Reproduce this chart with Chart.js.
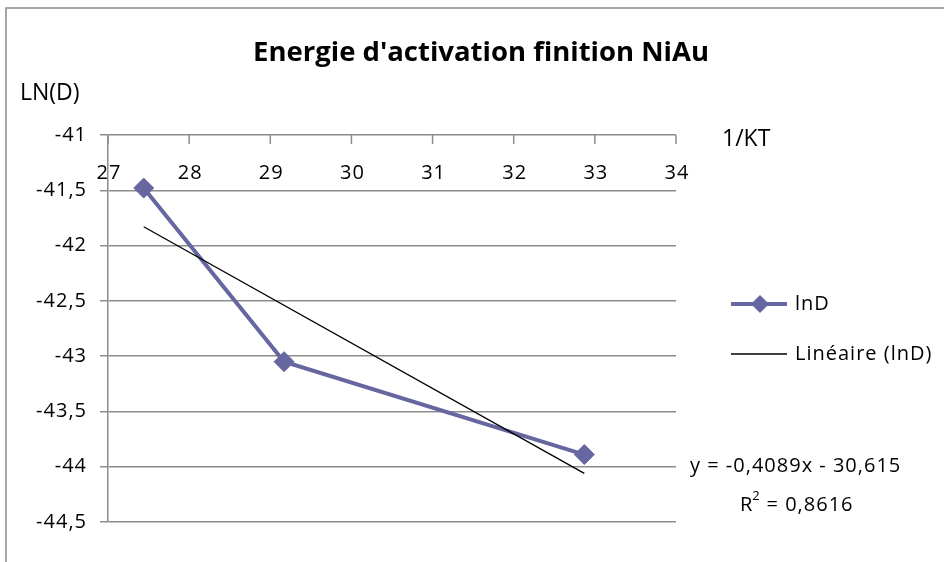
<!DOCTYPE html>
<html>
<head>
<meta charset="utf-8">
<script src="https://cdn.jsdelivr.net/npm/chart.js@4/dist/chart.umd.min.js"></script>
<style>
html,body{margin:0;padding:0;background:#fff;}
canvas{display:block;}
</style>
</head>
<body>
<canvas id="c" width="944" height="562"></canvas>
<script>
// ---- data ----
const seriesName = 'lnD';
const trendName = 'Linéaire (lnD)';
const xValues = [27.44, 29.17, 32.87];
const lnD = [-41.48, -43.05, -43.89];
const trendX = [27.44, 32.87];
const trendY = [-41.83, -44.06];
const xTicks = [27, 28, 29, 30, 31, 32, 33, 34];
const yTicks = [-41, -41.5, -42, -42.5, -43, -43.5, -44, -44.5];
const titleText = "Energie d'activation finition NiAu";
const yTitle = 'LN(D)';
const xTitle = '1/KT';
const equationText = 'y = -0,4089x - 30,615';
const r2Text = '0,8616';

const FONT = '"Open Sans", Lato, sans-serif';
const SERIES_COLOR = '#6666a0';
const GRID = '#8c8c8c';

const spacing = {
  id: 'spacing',
  beforeDraw(chart) { try { chart.ctx.letterSpacing = '1px'; } catch (e) {} }
};

const overlay = {
  id: 'overlay',
  afterDraw(chart) {
    const ctx = chart.ctx;
    const xs = chart.scales.x;
    const area = chart.chartArea;
    ctx.save();
    const ls = v => { try { ctx.letterSpacing = v; } catch (e) {} };
    // outer frame
    ctx.strokeStyle = '#8a8a8a';
    ctx.lineWidth = 1.5;
    ctx.strokeRect(6, 8, 960, 600);
    // title
    ctx.fillStyle = '#000';
    ls('0px');
    ctx.font = 'bold 27.5px ' + FONT;
    ctx.textAlign = 'center';
    ctx.textBaseline = 'alphabetic';
    ctx.fillText(titleText, 481, 61);
    // axis titles
    ctx.font = '23px ' + FONT;
    ctx.textAlign = 'left';
    ctx.fillText(yTitle, 20, 100);
    ctx.fillText(xTitle, 722, 146);
    // x ticks (axis crosses at top) and labels
    ls('1px');
    ctx.strokeStyle = GRID;
    ctx.lineWidth = 1.5;
    ctx.font = '20px ' + FONT;
    ctx.textAlign = 'center';
    ctx.textBaseline = 'middle';
    xTicks.forEach(v => {
      const px = xs.getPixelForValue(v);
      ctx.beginPath();
      ctx.moveTo(px, area.top);
      ctx.lineTo(px, area.top + 9);
      ctx.stroke();
      ctx.fillText(String(v), px + 1, area.top + 38);
    });
    // legend
    const lx1 = 731, lx2 = 787;
    ctx.strokeStyle = SERIES_COLOR;
    ctx.lineWidth = 4;
    ctx.beginPath(); ctx.moveTo(lx1, 304); ctx.lineTo(lx2, 304); ctx.stroke();
    ctx.fillStyle = SERIES_COLOR;
    ctx.beginPath();
    ctx.moveTo(760, 295); ctx.lineTo(769, 304); ctx.lineTo(760, 313); ctx.lineTo(751, 304); ctx.closePath();
    ctx.fill();
    ctx.strokeStyle = '#000';
    ctx.lineWidth = 1.3;
    ctx.beginPath(); ctx.moveTo(lx1, 354); ctx.lineTo(lx2, 354); ctx.stroke();
    ctx.fillStyle = '#000';
    ctx.textAlign = 'left';
    ctx.font = '20px ' + FONT;
    ctx.fillText(seriesName, 795, 304);
    ctx.fillText(trendName, 795, 354);
    // equation
    ctx.fillText(equationText, 690, 466);
    const rx = 740;
    ctx.fillText('R', rx, 505);
    const rw = ctx.measureText('R').width;
    ctx.font = '13px ' + FONT;
    ctx.fillText('2', rx + rw - 1, 496);
    ctx.font = '20px ' + FONT;
    ctx.fillText(' = ' + r2Text, rx + rw + 7, 505);
    ctx.restore();
  }
};

const yAxisWidth = 100;

new Chart(document.getElementById('c'), {
  type: 'scatter',
  data: {
    datasets: [
      {
        label: trendName,
        data: trendX.map((x, i) => ({x: x, y: trendY[i]})),
        showLine: true,
        borderColor: '#000',
        borderWidth: 1.3,
        pointRadius: 0,
        pointHoverRadius: 0,
        order: 0
      },
      {
        label: seriesName,
        data: xValues.map((x, i) => ({x: x, y: lnD[i]})),
        showLine: true,
        borderColor: SERIES_COLOR,
        backgroundColor: SERIES_COLOR,
        borderWidth: 4,
        pointStyle: 'rectRot',
        pointRadius: 10,
        pointBorderWidth: 1,
        pointBackgroundColor: SERIES_COLOR,
        pointBorderColor: SERIES_COLOR,
        order: 1
      }
    ]
  },
  options: {
    responsive: false,
    devicePixelRatio: 1,
    animation: false,
    layout: { padding: { left: 8, top: 135, right: 268, bottom: 40 } },
    plugins: { legend: { display: false }, title: { display: false }, tooltip: { enabled: false } },
    scales: {
      x: {
        type: 'linear', min: 27, max: 34, display: false
      },
      y: {
        type: 'linear', min: -44.5, max: -41,
        afterFit(scale) { scale.width = yAxisWidth; },
        afterBuildTicks(scale) { scale.ticks = yTicks.map(v => ({value: v})); },
        ticks: {
          color: '#000',
          font: { family: FONT, size: 20 },
          padding: 13,
          callback: v => String(v).replace('.', ',')
        },
        grid: { color: GRID, lineWidth: 1.5, tickLength: 8 },
        border: { color: GRID, width: 1.5 }
      }
    }
  },
  plugins: [spacing, overlay]
});
</script>
</body>
</html>
